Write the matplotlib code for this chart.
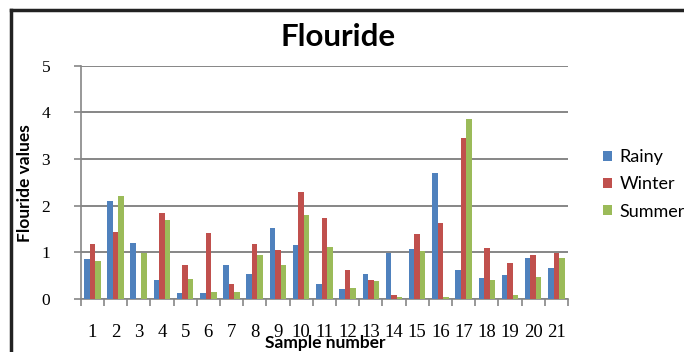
import numpy as np
import matplotlib.pyplot as plt
from matplotlib.lines import Line2D

samples = [str(i) for i in range(1, 22)]
series_names = ['Rainy', 'Winter', 'Summer']
rainy = [0.85, 2.09, 1.20, 0.41, 0.13, 0.13, 0.72, 0.53, 1.52, 1.15, 0.33,
         0.21, 0.53, 0.99, 1.07, 2.69, 0.62, 0.45, 0.51, 0.88, 0.66]
winter = [1.18, 1.44, 0.00, 1.84, 0.72, 1.42, 0.33, 1.18, 1.05, 2.29, 1.74,
          0.62, 0.41, 0.08, 1.40, 1.62, 3.46, 1.10, 0.78, 0.95, 0.99]
summer = [0.81, 2.20, 0.99, 1.69, 0.43, 0.16, 0.16, 0.95, 0.72, 1.80, 1.12,
          0.23, 0.38, 0.05, 1.02, 0.05, 3.86, 0.41, 0.08, 0.48, 0.88]
colors = ['#4F81BD', '#C0504D', '#9BBB59']

W, H = 684, 352
fig = plt.figure(figsize=(W / 100, H / 100), dpi=100)
ax = fig.add_axes([80.7 / W, 1 - 299 / H, (568 - 80.7) / W, (299 - 65.7) / H])

x = np.arange(1, len(samples) + 1)
bw = 0.237
for k, vals in enumerate([rainy, winter, summer]):
    ax.bar(x + (k - 1) * bw, vals, bw, color=colors[k], label=series_names[k], zorder=3)

ax.set_xlim(0.5, len(samples) + 0.5)
ax.set_ylim(0, 5)
ax.set_yticks(range(0, 6))
ax.yaxis.grid(True, color='#868686', lw=1.4, zorder=0)
for s in ['top', 'right']:
    ax.spines[s].set_visible(False)
for s in ['left', 'bottom']:
    ax.spines[s].set_color('#868686')
    ax.spines[s].set_linewidth(1.2)

ax.set_xticks(x)
ax.set_xticks(np.arange(0.5, len(samples) + 1, 1), minor=True)
ax.set_xticklabels(samples, family='Liberation Serif', fontsize=13.5)
ax.tick_params(axis='x', which='major', length=0, pad=18)
ax.tick_params(axis='x', which='minor', length=5, color='#868686', width=1.2)
ax.tick_params(axis='y', length=5, color='#868686', width=1.2, pad=17,
               labelsize=12.5)
for t in ax.get_yticklabels():
    t.set_family('Liberation Serif')

fig.text(338 / W, 1 - 37 / H, 'Flouride', ha='center', va='center',
         family='Lato', fontweight='bold', fontsize=22.5)
fig.text(25 / W, 1 - 183 / H, 'Flouride values', ha='center', va='center',
         rotation=90, family='Lato', fontweight='bold', fontsize=12.5)
fig.text(325 / W, 1 - 343 / H, 'Sample number', ha='center', va='center',
         family='Lato', fontweight='bold', fontsize=12.5)

fig.legend(loc='upper left', bbox_to_anchor=(587 / W, 1 - 133 / H),
           frameon=False, handlelength=0.5, handleheight=0.5, handletextpad=0.4,
           labelspacing=0.62, prop={'family': 'Lato', 'size': 13})

# chart border (left and top edges visible)
bx, by = 10.5 / W, 1 - 9.5 / H
fig.add_artist(Line2D([bx, bx], [0, by], transform=fig.transFigure, color='#222222', lw=2.5))
fig.add_artist(Line2D([bx, 1], [by, by], transform=fig.transFigure, color='#222222', lw=2.5))

fig.savefig('out.png', dpi=100)
